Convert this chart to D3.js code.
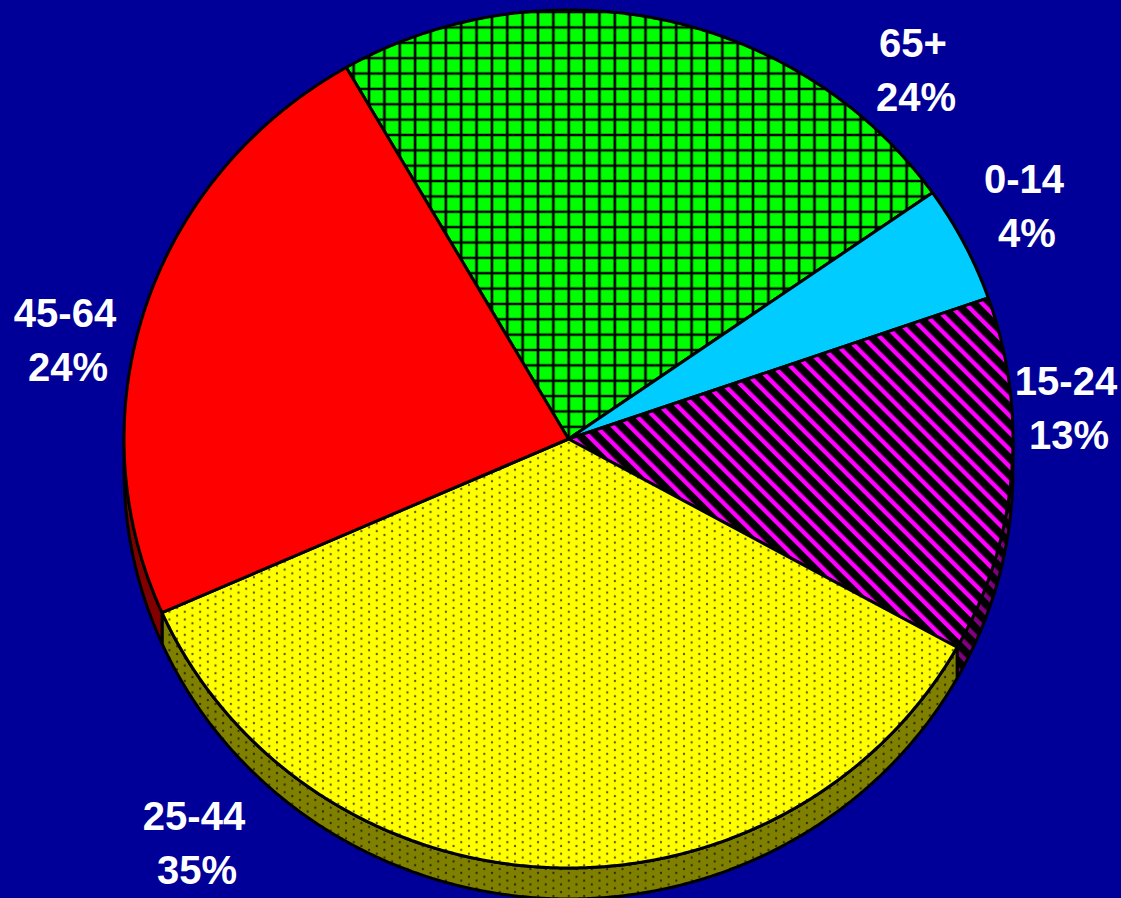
<!DOCTYPE html>
<html>
<head>
<meta charset="utf-8">
<title>Age groups</title>
<script src="https://cdn.jsdelivr.net/npm/d3@7"></script>
<style>
	html, body {margin:0; padding:0; background:#000099; overflow:hidden;}
	text {font-family:"Liberation Sans", Arial, sans-serif; font-weight:bold; font-size:40px; fill:#fff; text-anchor:middle;}
</style>
</head>
<body>
<div id="chart"></div>
<script>
// slices clockwise from the 65+ edge, shares
const categories = ["65+", "0-14", "15-24", "25-44", "45-64"];
const shares = [23.6, 4.4, 13.4, 35.3, 23.3];
const percentLabels = ["24%", "4%", "13%", "35%", "24%"];

const width = 1121, height = 898;
const depth = 31;
const fills = ["url(#grid)", "#00ccff", "url(#stripes)", "url(#dots)", "#ff0000"];
const wallFills = ["#008000", "#006680", "url(#stripesDark)", "url(#dotsDark)", "#800000"];
// label centre x and first baseline
const labelPos = [[913, 57], [1024, 193], [1066, 395], [194, 830], [65, 327]];

const svg = d3.select("#chart")
	.append("svg")
	.attr("width", width)
	.attr("height", height)
	.style("display", "block");

svg.append("rect")
	.attr("width", width)
	.attr("height", height)
	.attr("fill", "#000099");

const defs = svg.append("defs");
const cell = 15.36;
const stripeCell = 12;

function addPattern(id, w, h, x, y) {
	return defs.append("pattern")
		.attr("id", id)
		.attr("patternUnits", "userSpaceOnUse")
		.attr("width", w)
		.attr("height", h)
		.attr("x", x)
		.attr("y", y);
}

//cross hatch
const grid = addPattern("grid", cell, cell, 0.4, 12.1);
grid.append("rect").attr("width", cell).attr("height", cell).attr("fill", "#00ff00");
grid.append("path")
	.attr("d", `M0,0 V${cell} M${cell},0 V${cell} M0,0 H${cell} M0,${cell} H${cell}`)
	.attr("stroke", "#000")
	.attr("stroke-width", 2.6);

//diagonal stripes, a rotated bar so the tiles have no seams
function addStripes(id, colour) {
	const p = addPattern(id, stripeCell, stripeCell, -2.2, 0)
		.attr("patternTransform", "rotate(-45)");
	p.append("rect").attr("width", stripeCell).attr("height", stripeCell).attr("fill", "#000");
	p.append("rect").attr("width", 4.4).attr("height", stripeCell).attr("fill", colour);
}
addStripes("stripes", "#ff00ff");
addStripes("stripesDark", "#800080");

//staggered dots
function addDots(id, colour) {
	const p = addPattern(id, cell, cell / 2, 0.46, 5.06);
	p.append("rect").attr("width", cell).attr("height", cell / 2).attr("fill", colour);
	[[0, 0], [cell, 0], [0, cell / 2], [cell, cell / 2], [cell / 2, cell / 4]].forEach(function (c) {
		p.append("circle")
			.attr("cx", c[0])
			.attr("cy", c[1])
			.attr("r", 1.15)
			.attr("fill", "#000")
			.attr("opacity", 0.65);
	});
}
addDots("dots", "#ffff00");
addDots("dotsDark", "#808000");

//unit circle to picture
const xScale = d3.scaleLinear().domain([-1, 1]).range([124, 1013]);
const yScale = d3.scaleLinear().domain([-1, 1]).range([10, 868]);

const pie = d3.pie()
	.sort(null)
	.startAngle(-30 * Math.PI / 180)
	.endAngle(330 * Math.PI / 180);

const slices = pie(shares);

function rimPoints(a0, a1, dy) {
	const n = Math.max(2, Math.ceil((a1 - a0) / 0.005));
	return d3.range(n + 1).map(function (i) {
		const a = a0 + (a1 - a0) * i / n;
		return [xScale(Math.sin(a)), yScale(-Math.cos(a)) + dy];
	});
}

const line = d3.line();
const stroke = 3;

//side wall, only the part of a slice that faces the front
const walls = svg.append("g");
slices.forEach(function (s, i) {
	const a0 = Math.max(s.startAngle, Math.PI / 2);
	const a1 = Math.min(s.endAngle, Math.PI * 1.5);
	if (a1 <= a0) return;
	const top = rimPoints(a0, a1, 0);
	const bottom = rimPoints(a0, a1, depth).reverse();
	walls.append("path")
		.attr("d", line(top.concat(bottom)) + "Z")
		.attr("fill", wallFills[i])
		.attr("stroke", "#000")
		.attr("stroke-width", stroke)
		.attr("stroke-linejoin", "round");
});

//top face
svg.append("g")
	.selectAll("path")
	.data(slices)
	.enter()
	.append("path")
	.attr("d", function (s) {
		const centre = [xScale(0), yScale(0)];
		return line([centre].concat(rimPoints(s.startAngle, s.endAngle, 0))) + "Z";
	})
	.attr("fill", function (s, i) { return fills[i]; })
	.attr("stroke", "#000")
	.attr("stroke-width", stroke)
	.attr("stroke-linejoin", "round");

//labels
const labels = svg.append("g");
categories.forEach(function (c, i) {
	labels.append("text")
		.attr("x", labelPos[i][0])
		.attr("y", labelPos[i][1])
		.text(c);
	labels.append("text")
		.attr("x", labelPos[i][0] + 3)
		.attr("y", labelPos[i][1] + 54)
		.text(percentLabels[i]);
});
</script>
</body>
</html>
